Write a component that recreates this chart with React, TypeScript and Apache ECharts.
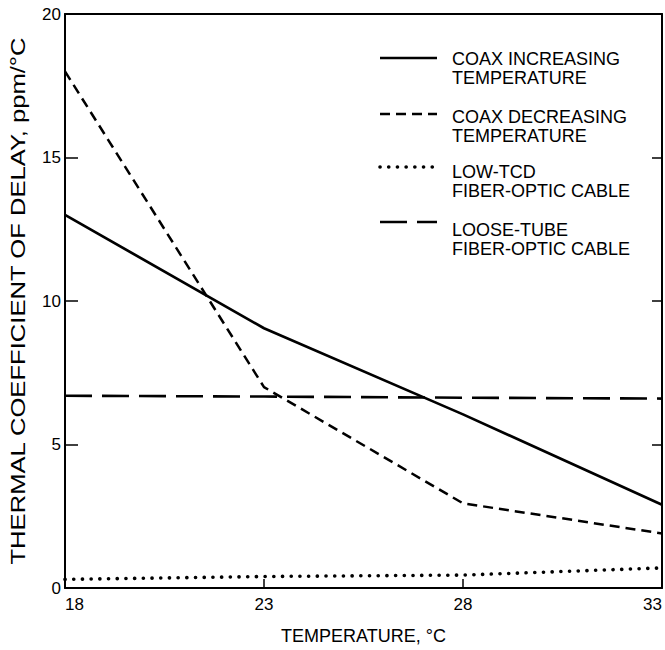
import React, { useEffect, useRef } from "react";
import * as echarts from "echarts";

const temperatures = [18, 23, 28, 33];
const coaxIncreasing = [13.0, 9.05, 6.05, 2.9];
const coaxDecreasing = [18.0, 7.0, 2.95, 1.9];
const lowTcd = [0.3, 0.4, 0.45, 0.7];
const looseTube = [6.7, 6.67, 6.63, 6.6];

const xTitle = "TEMPERATURE, °C";
const yTitle = "THERMAL COEFFICIENT OF DELAY, ppm/°C";

const seriesNames = [
  ["COAX INCREASING", "TEMPERATURE"],
  ["COAX DECREASING", "TEMPERATURE"],
  ["LOW-TCD", "FIBER-OPTIC CABLE"],
  ["LOOSE-TUBE", "FIBER-OPTIC CABLE"],
];

const FONT = "Liberation Sans, Arial, sans-serif";

const lineStyles: any[] = [
  { type: "solid", width: 2.7, color: "#000" },
  { type: [10, 6], width: 2.5, color: "#000" },
  { type: [0.1, 8.6], width: 3.6, color: "#000", cap: "round" },
  { type: [27, 10], width: 2.6, color: "#000" },
];

const seriesData = [coaxIncreasing, coaxDecreasing, lowTcd, looseTube];

export default function App() {
  const ref = useRef<HTMLDivElement>(null);
  useEffect(() => {
    if (!ref.current) return;
    const chart = echarts.init(ref.current, null, { renderer: "svg" });
    const legendTop = [59, 117, 172, 230];
    const legendLineY = [58, 114, 167, 222];
    const graphic: any[] = [];
    seriesNames.forEach((lines, i) => {
      const ls = lineStyles[i];
      graphic.push({
        type: "line",
        shape: { x1: 380, y1: legendLineY[i], x2: 437, y2: legendLineY[i] },
        style: {
          stroke: "#000",
          lineWidth: ls.width,
          lineDash: ls.type === "solid" ? null : ls.type,
          lineCap: ls.cap || "butt",
        },
      });
      lines.forEach((t, j) => {
        graphic.push({
          type: "text",
          x: 452,
          y: legendTop[i] + j * 19,
          style: {
            text: t,
            font: `18px ${FONT}`,
            fill: "#000",
            verticalAlign: "middle",
            align: "left",
          },
        });
      });
    });
    graphic.push({
      type: "text",
      x: 18,
      y: 301,
      rotation: Math.PI / 2,
      scaleX: 1.22,
      style: {
        text: yTitle,
        font: `21px ${FONT}`,
        fill: "#000",
        align: "center",
        verticalAlign: "middle",
      },
    });

    chart.setOption({
      animation: false,
      grid: { left: 65, right: 2, top: 14, bottom: 58, containLabel: false },
      xAxis: [
        {
          type: "value",
          min: 18,
          max: 33,
          interval: 5,
          name: xTitle,
          nameLocation: "middle",
          nameGap: 39,
          nameTextStyle: { fontFamily: FONT, fontSize: 18, color: "#000" },
          axisLine: { show: true, onZero: false, lineStyle: { color: "#000", width: 2 } },
          axisTick: { show: true, inside: true, length: 9, lineStyle: { color: "#000", width: 1.5 } },
          axisLabel: {
            fontFamily: FONT,
            fontSize: 17,
            color: "#000",
            margin: 8,
            alignMinLabel: "left",
            alignMaxLabel: "right",
          },
          splitLine: { show: false },
        },
        {
          type: "value",
          position: "top",
          min: 18,
          max: 33,
          interval: 5,
          axisLine: { show: true, onZero: false, lineStyle: { color: "#000", width: 2 } },
          axisTick: { show: false },
          axisLabel: { show: false },
          splitLine: { show: false },
        },
      ],
      yAxis: [
        {
          type: "value",
          min: 0,
          max: 20,
          interval: 5,
          axisLine: { show: true, onZero: false, lineStyle: { color: "#000", width: 2 } },
          axisTick: { show: true, inside: true, length: 13, lineStyle: { color: "#000", width: 1.5 } },
          axisLabel: { fontFamily: FONT, fontSize: 17, color: "#000", margin: 4 },
          splitLine: { show: false },
        },
        {
          type: "value",
          position: "right",
          min: 0,
          max: 20,
          interval: 5,
          axisLine: { show: true, onZero: false, lineStyle: { color: "#000", width: 2 } },
          axisTick: { show: true, inside: true, length: 10, lineStyle: { color: "#000", width: 1.5 } },
          axisLabel: { show: false },
          splitLine: { show: false },
        },
      ],
      series: seriesData.map((vals, i) => ({
        type: "line",
        name: seriesNames[i].join(" "),
        data: temperatures.map((t, k) => [t, vals[k]]),
        symbol: "none",
        lineStyle: {
          color: "#000",
          width: lineStyles[i].width,
          type: lineStyles[i].type,
          cap: lineStyles[i].cap || "butt",
        },
        clip: true,
      })),
      graphic,
    });
    return () => chart.dispose();
  }, []);
  return (
    <div
      ref={ref}
      style={{ position: "fixed", left: 0, top: 0, width: 665, height: 650, background: "#fff" }}
    />
  );
}
